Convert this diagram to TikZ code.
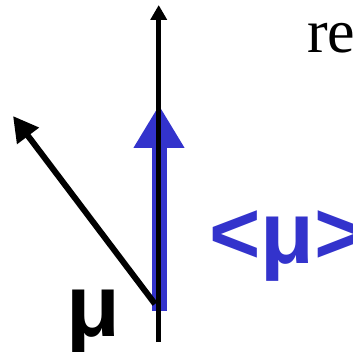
\documentclass[tikz,border=0pt]{standalone}
\usepackage{fontspec}
\setmainfont{Liberation Serif}
\newfontfamily\arialfont{Liberation Sans}
\usetikzlibrary{arrows.meta}
\definecolor{muBlue}{RGB}{51,51,204}
\tikzset{
  axisline/.style={line width=4.6pt, -{Triangle[length=15pt,width=16pt]}},
  meanarrow/.style={draw=muBlue, line width=15pt, -{Triangle[length=43pt,width=48pt]}},
  momentarrow/.style={line width=6pt, -{Triangle[length=25pt,width=26pt]}},
  biglabel/.style={anchor=base west, inner sep=0pt, font=\arialfont\bfseries\fontsize{88}{88}\selectfont},
}
\begin{document}
\begin{tikzpicture}[x=1pt,y=-1pt]
\useasboundingbox (0,0) rectangle (352,352);
\clip (0,0) rectangle (352,352);
\coordinate (axisBottom) at (158.7,342);
\coordinate (axisTop) at (158.7,5);
\coordinate (meanBottom) at (159,311);
\coordinate (meanTop) at (159,105);
\coordinate (momBottom) at (155,304);
\coordinate (momTop) at (13,116);
\draw[meanarrow] (meanBottom) -- (meanTop);
\draw[axisline] (axisBottom) -- (axisTop);
\draw[momentarrow] (momBottom) -- (momTop);
\node[biglabel] (muLabel) at (66,336) {μ};
\node[biglabel, text=muBlue] (avgMu) at (209,263) {<μ>};
\node[anchor=base west, inner sep=0pt, font=\fontsize{62}{62}\selectfont] (reText) at (307,53) {re};
\end{tikzpicture}
\end{document}
